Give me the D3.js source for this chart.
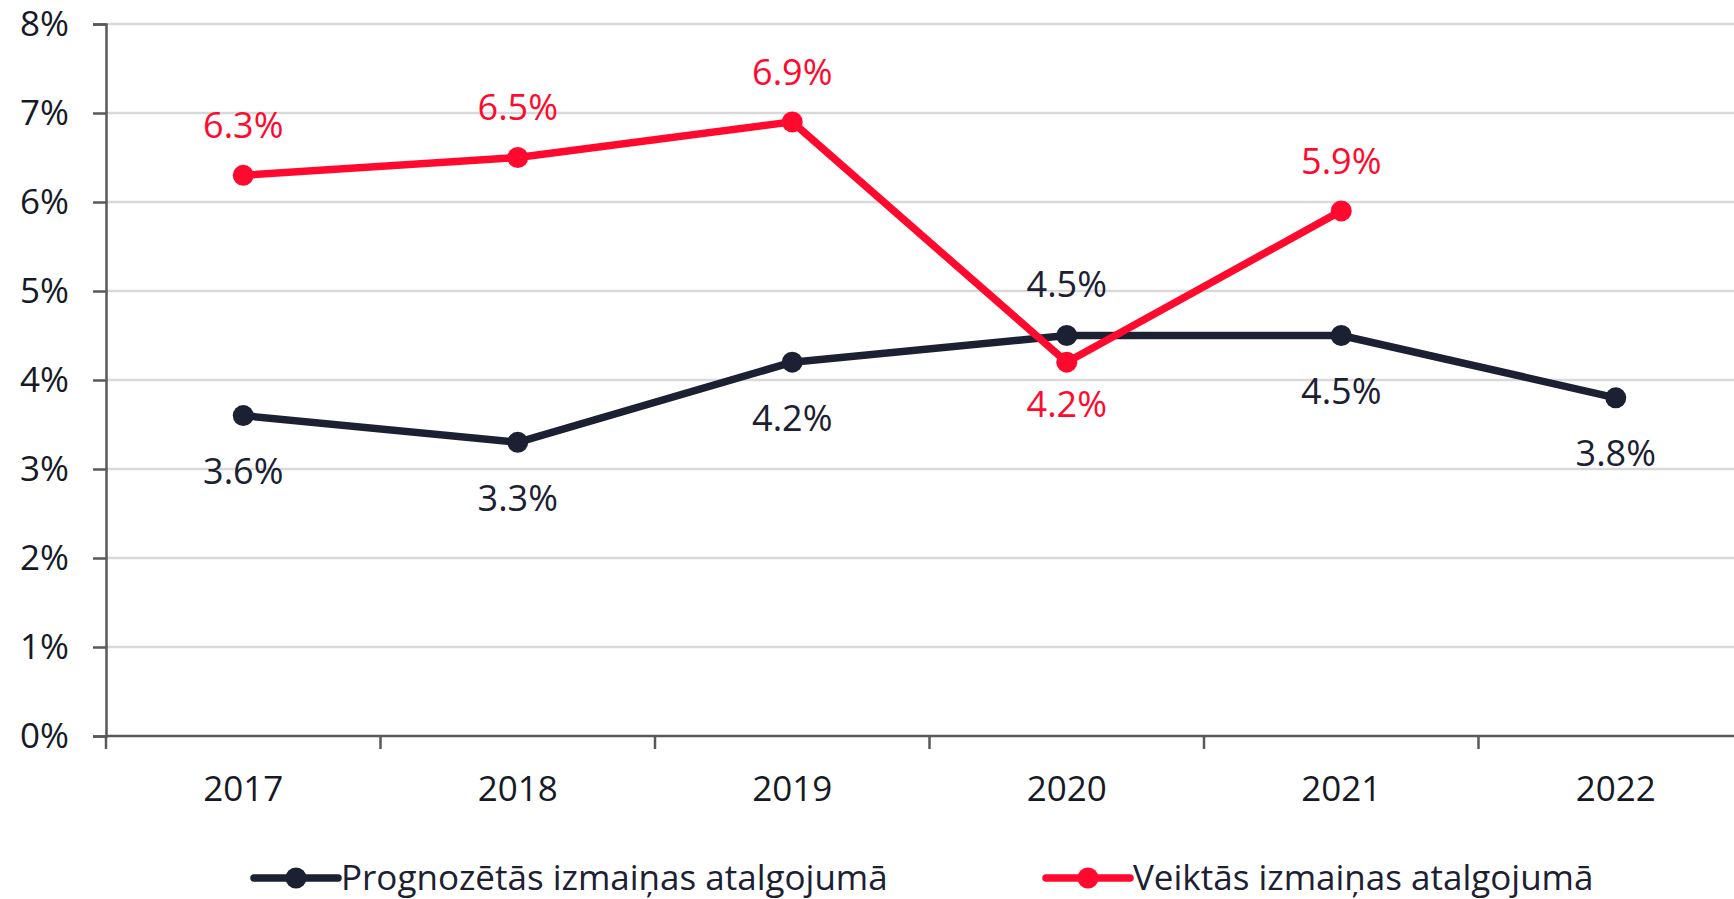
<!DOCTYPE html>
<html lang="lv">
<head>
  <meta charset="UTF-8" />
  <title>Izmaiņas atalgojumā</title>
  <script src="https://d3js.org/d3.v7.min.js"></script>
  <style>
    html, body { margin: 0; padding: 0; background: #fff; overflow: hidden; }
    text { font-family: "Open Sans", sans-serif; }
  </style>
</head>
<body>
<div id="chart"></div>
<script>
// dati
const years = ["2017", "2018", "2019", "2020", "2021", "2022"];
const forecast = [3.6, 3.3, 4.2, 4.5, 4.5, 3.8];        // Prognozētās
const actual = [6.3, 6.5, 6.9, 4.2, 5.9];               // Veiktās
const yTicks = [0, 1, 2, 3, 4, 5, 6, 7, 8];
const seriesNames = ["Prognozētās izmaiņas atalgojumā", "Veiktās izmaiņas atalgojumā"];
// label placement: negative above, positive below (in px)
const forecastPos = [56, 56, 56, -51, 56, 56];
const actualPos = [-50, -50, -50, 42, -50];

const W = 1734, H = 899;
const dark = "#1b2033", red = "#ff0a2e";
const FS = 35;

const svg = d3.select("#chart").append("svg")
  .attr("width", W).attr("height", H);

const x = d3.scaleBand().domain(years).range([106, 106 + 6 * 274.5]);
const y = d3.scaleLinear().domain([0, 8]).range([736, 24]);

// grid
svg.append("g").selectAll("line")
  .data(yTicks.slice(1))
  .enter().append("line")
  .attr("x1", 106).attr("x2", W + 40)
  .attr("y1", d => y(d)).attr("y2", d => y(d))
  .attr("stroke", "#d9d9d9").attr("stroke-width", 2.5);

// y axis
const yAxis = svg.append("g")
  .attr("transform", "translate(106,0)")
  .call(d3.axisLeft(y).tickValues(yTicks).tickFormat(d => d + "%").tickSize(13).tickPadding(24));
yAxis.select(".domain").attr("stroke", "#595959").attr("stroke-width", 2.5);
yAxis.selectAll(".tick line").attr("stroke", "#595959").attr("stroke-width", 2.5);
yAxis.selectAll(".tick text")
  .attr("fill", "#161a26").style("font-size", FS + "px")
  .style("font-family", "'Open Sans', sans-serif");

// x axis
const xAxis = svg.append("g")
  .attr("transform", "translate(0,736)")
  .call(d3.axisBottom(x).tickSize(0).tickPadding(40));
xAxis.select(".domain").remove();
xAxis.selectAll(".tick text")
  .attr("fill", "#161a26").style("font-size", FS + "px")
  .style("font-family", "'Open Sans', sans-serif");
svg.append("line")
  .attr("x1", 106).attr("x2", W + 40)
  .attr("y1", 736).attr("y2", 736)
  .attr("stroke", "#595959").attr("stroke-width", 2.5);
svg.append("g").selectAll("line")
  .data(d3.range(years.length + 1))
  .enter().append("line")
  .attr("x1", i => 106 + i * x.step()).attr("x2", i => 106 + i * x.step())
  .attr("y1", 736).attr("y2", 749)
  .attr("stroke", "#595959").attr("stroke-width", 2.5);

const cx = i => x(years[i]) + x.bandwidth() / 2;

function drawSeries(vals, color, pos) {
  const line = d3.line().x((d, i) => cx(i)).y(d => y(d));
  svg.append("path").datum(vals)
    .attr("d", line).attr("fill", "none")
    .attr("stroke", color).attr("stroke-width", 7.5)
    .attr("stroke-linejoin", "round");
  svg.append("g").selectAll("circle")
    .data(vals).enter().append("circle")
    .attr("cx", (d, i) => cx(i)).attr("cy", d => y(d))
    .attr("r", 10.5).attr("fill", color);
  svg.append("g").selectAll("text")
    .data(vals).enter().append("text")
    .attr("x", (d, i) => cx(i))
    .attr("y", (d, i) => y(d) + pos[i])
    .attr("dy", "0.35em")
    .attr("text-anchor", "middle")
    .attr("fill", color)
    .style("font-size", (FS + 1) + "px")
    .text(d => d.toFixed(1) + "%");
}

drawSeries(forecast, dark, forecastPos);
drawSeries(actual, red, actualPos);

// legend
const legend = [
  { name: seriesNames[0], color: dark, x: 254 },
  { name: seriesNames[1], color: red, x: 1046 }
];
const lg = svg.append("g").selectAll("g").data(legend).enter().append("g")
  .attr("transform", d => `translate(${d.x},878)`);
lg.append("line").attr("x1", 0).attr("x2", 84)
  .attr("stroke", d => d.color).attr("stroke-width", 7.5).attr("stroke-linecap", "round");
lg.append("circle").attr("cx", 42).attr("r", 10.5).attr("fill", d => d.color);
lg.append("text").attr("x", 87).attr("dy", "0.35em")
  .attr("fill", dark).style("font-size", FS + "px")
  .text(d => d.name);
</script>
</body>
</html>
